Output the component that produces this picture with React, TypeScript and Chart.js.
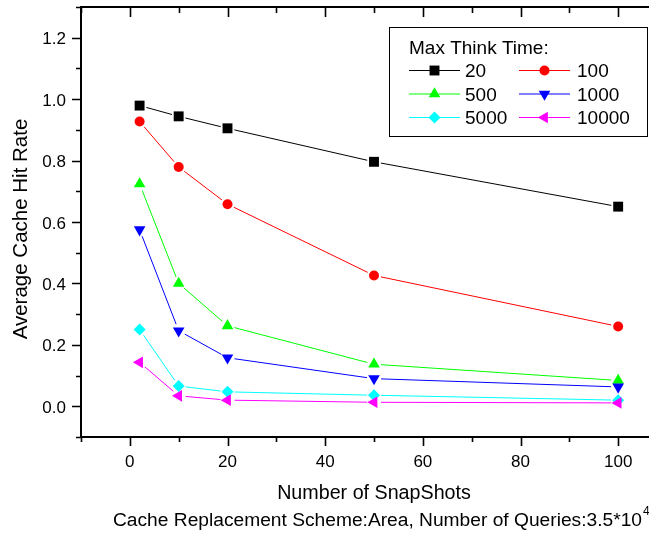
import React, { useEffect, useRef } from "react";
import { Chart, registerables } from "chart.js";
import { drawPoint } from "chart.js/helpers";

Chart.register(...registerables);

// ---------- data ----------
const xValues = [2, 10, 20, 50, 100];
const seriesLabels = ["20", "100", "500", "1000", "5000", "10000"];
const s20 = [0.979, 0.944, 0.905, 0.796, 0.65];
const s100 = [0.927, 0.779, 0.658, 0.426, 0.26];
const s500 = [0.724, 0.4, 0.262, 0.137, 0.084];
const s1000 = [0.575, 0.246, 0.158, 0.09, 0.063];
const s5000 = [0.25, 0.066, 0.047, 0.036, 0.02];
const s10000 = [0.143, 0.034, 0.02, 0.013, 0.011];
const seriesValues = [s20, s100, s500, s1000, s5000, s10000];
const seriesColors = ["#000000", "#ff0000", "#00ff00", "#0000ff", "#00ffff", "#ff00ff"];
const seriesStyles = ["rect", "circle", "triangle", "triangle", "rectRot", "triangle"];
const seriesRotations = [0, 0, 0, 180, 0, 270];
const seriesRadii = [7, 5, 6.7, 6.7, 6, 6.7];

const xMin = -10;
const xMax = 110;
const yMin = -0.1;
const yMax = 1.3;
const xTickValues = [0, 20, 40, 60, 80, 100];
const xTickLabels = ["0", "20", "40", "60", "80", "100"];
const xMinorTicks = [-10, 10, 30, 50, 70, 90, 110];
const yTickValues = [0, 0.2, 0.4, 0.6, 0.8, 1.0, 1.2];
const yTickLabels = ["0.0", "0.2", "0.4", "0.6", "0.8", "1.0", "1.2"];
const yMinorTicks = [-0.1, 0.1, 0.3, 0.5, 0.7, 0.9, 1.1, 1.3];

const legendTitle = "Max Think Time:";
const xTitle = "Number of SnapShots";
const yTitle = "Average Cache Hit Rate";
const subtitleMain = "Cache Replacement Scheme:Area, Number of Queries:3.5*10";
const subtitleSup = "4";

const FONT = '"Liberation Sans", Arial, sans-serif';
const LINE_GAP = 7;

// Origin-style connecting lines with small gaps at the symbols
const linesPlugin = {
  id: "gapLines",
  beforeDatasetsDraw(chart: any) {
    const ctx = chart.ctx as CanvasRenderingContext2D;
    const ca = chart.chartArea;
    ctx.save();
    ctx.beginPath();
    ctx.rect(ca.left, ca.top, ca.right - ca.left, ca.bottom - ca.top);
    ctx.clip();
    ctx.lineWidth = 1;
    chart.data.datasets.forEach((ds: any, i: number) => {
      const meta = chart.getDatasetMeta(i);
      const pts = meta.data;
      ctx.strokeStyle = ds.borderColor;
      ctx.beginPath();
      for (let k = 0; k < pts.length - 1; k++) {
        const a = pts[k];
        const b = pts[k + 1];
        const dx = b.x - a.x;
        const dy = b.y - a.y;
        const len = Math.hypot(dx, dy);
        if (len <= 2 * LINE_GAP) continue;
        const ux = dx / len;
        const uy = dy / len;
        ctx.moveTo(a.x + ux * LINE_GAP, a.y + uy * LINE_GAP);
        ctx.lineTo(b.x - ux * LINE_GAP, b.y - uy * LINE_GAP);
      }
      ctx.stroke();
    });
    ctx.restore();
  },
};

const decorPlugin = {
  id: "decor",
  afterDraw(chart: any) {
    const ctx = chart.ctx as CanvasRenderingContext2D;
    const ca = chart.chartArea;
    const xs = chart.scales.x;
    const ys = chart.scales.y;
    ctx.save();
    ctx.strokeStyle = "#000";
    ctx.fillStyle = "#000";
    ctx.lineWidth = 2;
    // axis lines
    ctx.beginPath();
    ctx.moveTo(ca.left, ca.top);
    ctx.lineTo(ca.left, ca.bottom);
    ctx.moveTo(ca.left - 1, ca.bottom);
    ctx.lineTo(ca.right, ca.bottom);
    ctx.moveTo(ca.left - 1, ca.top);
    ctx.lineTo(ca.right, ca.top);
    ctx.moveTo(ca.right, ca.top);
    ctx.lineTo(ca.right, ca.bottom);
    ctx.stroke();

    ctx.lineWidth = 1.6;
    ctx.beginPath();
    for (const v of xTickValues) {
      const px = Math.round(xs.getPixelForValue(v)) + 0.5;
      ctx.moveTo(px, ca.bottom);
      ctx.lineTo(px, ca.bottom + 9);
      ctx.moveTo(px, ca.top);
      ctx.lineTo(px, ca.top + 10);
    }
    for (const v of xMinorTicks) {
      const px = Math.round(xs.getPixelForValue(v)) + 0.5;
      ctx.moveTo(px, ca.bottom);
      ctx.lineTo(px, ca.bottom + 5);
      ctx.moveTo(px, ca.top);
      ctx.lineTo(px, ca.top + 6);
    }
    for (const v of yTickValues) {
      const py = Math.round(ys.getPixelForValue(v)) + 0.5;
      ctx.moveTo(ca.left, py);
      ctx.lineTo(ca.left - 9, py);
    }
    for (const v of yMinorTicks) {
      const py = Math.round(ys.getPixelForValue(v)) + 0.5;
      ctx.moveTo(ca.left, py);
      ctx.lineTo(ca.left - 5, py);
    }
    ctx.stroke();

    // tick labels
    ctx.font = `17px ${FONT}`;
    ctx.textBaseline = "alphabetic";
    ctx.textAlign = "center";
    xTickValues.forEach((v, i) => {
      ctx.fillText(xTickLabels[i], xs.getPixelForValue(v), ca.bottom + 30);
    });
    ctx.textAlign = "right";
    yTickValues.forEach((v, i) => {
      ctx.fillText(yTickLabels[i], ca.left - 15, ys.getPixelForValue(v) + 6.5);
    });

    // axis titles
    ctx.font = `19.7px ${FONT}`;
    ctx.textAlign = "center";
    ctx.fillText(xTitle, (ca.left + ca.right) / 2, ca.bottom + 62);
    ctx.save();
    ctx.font = `20.5px ${FONT}`;
    ctx.translate(27, 229);
    ctx.rotate(-Math.PI / 2);
    ctx.fillText(yTitle, 0, 0);
    ctx.restore();

    // subtitle with superscript
    ctx.textAlign = "left";
    ctx.font = `19.2px ${FONT}`;
    const sx = 113;
    ctx.fillText(subtitleMain, sx, 526);
    const w = ctx.measureText(subtitleMain).width;
    ctx.font = `12px ${FONT}`;
    ctx.fillText(subtitleSup, sx + w + 1, 515);

    // legend
    ctx.lineWidth = 1;
    ctx.strokeStyle = "#000";
    ctx.strokeRect(389.5, 27.5, 258, 109);
    ctx.font = `19px ${FONT}`;
    ctx.fillText(legendTitle, 409, 53.5);
    const cols = [
      { l0: 409, l1: 460, mx: 434.5, tx: 465 },
      { l0: 519, l1: 570, mx: 544.5, tx: 577 },
    ];
    const rows = [70, 93.5, 117];
    chart.data.datasets.forEach((ds: any, i: number) => {
      const c = cols[i % 2];
      const y = rows[Math.floor(i / 2)];
      ctx.strokeStyle = ds.borderColor;
      ctx.lineWidth = 1;
      ctx.beginPath();
      ctx.moveTo(c.l0, y + 0.5);
      ctx.lineTo(c.l1, y + 0.5);
      ctx.stroke();
      ctx.fillStyle = ds.borderColor;
      drawPoint(
        ctx,
        { pointStyle: ds.pointStyle, rotation: ds.pointRotation, radius: ds.pointRadius, borderWidth: 0 } as any,
        c.mx,
        y + 0.5
      );
      ctx.fillStyle = "#000";
      ctx.fillText(ds.label, c.tx, y + 7);
    });
    ctx.restore();
  },
};

export default function App() {
  const ref = useRef<HTMLCanvasElement>(null);
  useEffect(() => {
    if (!ref.current) return;
    const datasets = seriesLabels.map((label, i) => ({
      label,
      data: xValues.map((x, j) => ({ x, y: seriesValues[i][j] })),
      borderColor: seriesColors[i],
      backgroundColor: seriesColors[i],
      pointBackgroundColor: seriesColors[i],
      pointBorderColor: seriesColors[i],
      pointBorderWidth: 0,
      borderWidth: 1,
      showLine: false,
      pointStyle: seriesStyles[i],
      pointRotation: seriesRotations[i],
      pointRadius: seriesRadii[i],
      tension: 0,
      fill: false,
      order: seriesLabels.length - i,
    }));
    const chart = new Chart(ref.current, {
      type: "line",
      data: { datasets },
      options: {
        animation: false,
        responsive: false,
        maintainAspectRatio: false,
        layout: { padding: { top: 4, right: 13, left: 0, bottom: 0 } },
        plugins: { legend: { display: false }, tooltip: { enabled: false }, title: { display: false } },
        scales: {
          x: {
            type: "linear",
            min: xMin,
            max: xMax,
            grid: { display: false, drawTicks: false },
            border: { display: false },
            ticks: { display: false },
            afterFit: (s: any) => {
              s.height = 99;
            },
          },
          y: {
            type: "linear",
            min: yMin,
            max: yMax,
            grid: { display: false, drawTicks: false },
            border: { display: false },
            ticks: { display: false },
            afterFit: (s: any) => {
              s.width = 81;
            },
          },
        },
      },
      plugins: [linesPlugin, decorPlugin],
    });
    return () => chart.destroy();
  }, []);
  return (
    <div
      style={{
        position: "fixed",
        left: 0,
        top: 0,
        width: 649,
        height: 536,
        overflow: "hidden",
        background: "#fff",
      }}
    >
      <canvas ref={ref} width={680} height={536} style={{ display: "block", width: 680, height: 536 }} />
    </div>
  );
}
